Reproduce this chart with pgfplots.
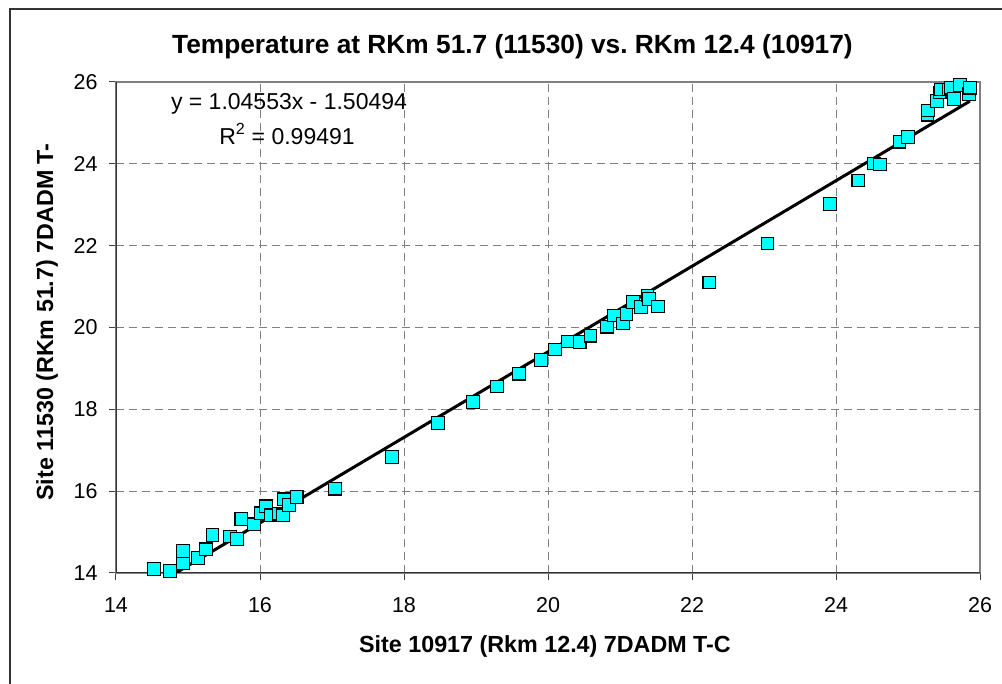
\documentclass[border=0pt]{standalone}
\usepackage{pgfplots}
\pgfplotsset{compat=1.18}
\usepackage{fontspec}
\setmainfont{Liberation Sans}
\definecolor{mk}{RGB}{0,255,255}
\definecolor{gridc}{RGB}{128,128,128}
\begin{document}
\begin{tikzpicture}[x=1pt,y=1pt]
\useasboundingbox (0,0) rectangle (1002,684);
\draw[line width=1.3pt, black!80] (10,0) -- (10,675) -- (1002,675);
\node[font=\fontsize{26.3}{31}\selectfont\bfseries] at (512.5,637) {Temperature at RKm 51.7 (11530) vs.\ RKm 12.4 (10917)};
\node[font=\fontsize{23.3}{28}\selectfont\bfseries] at (545,38) {Site 10917 (Rkm 12.4) 7DADM T-C};
\node[font=\fontsize{23.3}{28}\selectfont\bfseries, rotate=90] at (47,362) {Site 11530 (RKm 51.7) 7DADM T-};
\begin{axis}[
  at={(116pt,111pt)}, anchor=south west,
  scale only axis, width=864pt, height=491pt,
  xmin=14, xmax=26, ymin=14, ymax=26,
  xtick={14,16,...,26}, ytick={14,16,...,26},
  tick pos=left, tick align=outside, major tick length=7pt,
  tick style={black!75, line width=1pt},
  grid=major,
  major grid style={gridc, line width=1pt, dash pattern=on 8pt off 5pt},
  axis line style={gridc, line width=1.3pt},
  /pgf/number format/assume math mode=true,
  ticklabel style={font=\fontsize{21.5}{25}\selectfont},
  yticklabel style={xshift=-8pt},
  xticklabel style={yshift=-14pt},
  clip=true,
]
\draw[black!80, line width=1.3pt] (axis cs:14,26) -- (axis cs:14,14) -- (axis cs:26,14);
\addplot[black, line width=3pt, no marks] coordinates {(14.53,13.6868) (25.86,25.5324)};
\addplot[only marks, mark=square*, mark size=6.3pt,
  mark options={fill=mk, draw=black, line width=1.1pt}] coordinates {
(14.53,14.10) (14.75,14.05) (14.93,14.24) (14.93,14.54) (15.14,14.37)
(15.25,14.58) (15.34,14.93) (15.58,14.89) (15.68,14.83) (15.74,15.32)
(15.92,15.19) (16.01,15.46) (16.08,15.63) (16.15,15.41) (16.26,15.45)
(16.32,15.41) (16.33,15.80) (16.40,15.66) (16.51,15.86) (17.04,16.06)
(17.83,16.84) (18.47,17.66) (18.96,18.18) (19.29,18.56) (19.60,18.87)
(19.90,19.21) (20.10,19.46) (20.28,19.66) (20.44,19.64) (20.59,19.80)
(20.82,20.02) (20.92,20.29) (21.04,20.10) (21.09,20.33) (21.18,20.62)
(21.29,20.50) (21.38,20.78) (21.40,20.70) (21.53,20.51) (22.24,21.10)
(23.05,22.05) (23.92,23.02) (24.31,23.59) (24.53,24.01) (24.61,23.98)
(24.88,24.54) (25.00,24.66) (25.27,25.20) (25.28,25.30) (25.40,25.54)
(25.44,25.74) (25.46,25.82) (25.57,25.82) (25.60,25.86) (25.64,25.58)
(25.72,25.93) (25.85,25.71) (25.86,25.86)
};
\end{axis}
\node[font=\fontsize{23}{28}\selectfont] at (289,580) {y = 1.04553x - 1.50494};
\node[font=\fontsize{23}{28}\selectfont] at (287,550) {R\textsuperscript{2} = 0.99491};
\end{tikzpicture}
\end{document}
